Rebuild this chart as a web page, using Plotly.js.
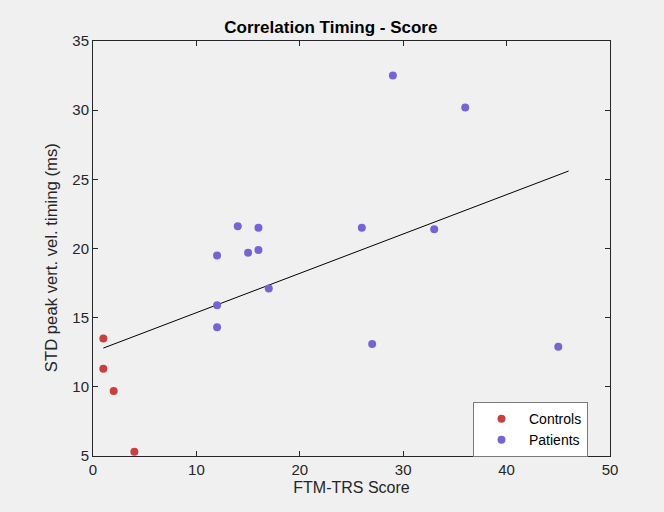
<!DOCTYPE html>
<html>
<head>
<meta charset="utf-8">
<script src="https://cdn.plot.ly/plotly-3.0.1.min.js"></script>
<style>html,body{margin:0;padding:0;background:#f0f0f0;}</style>
</head>
<body>
<div id="chart" style="width:664px;height:512px;"></div>
<script>
const controlsX = [1, 1, 2, 4];
const controlsY = [13.5, 11.3, 9.7, 5.3];
const patientsX = [12, 12, 12, 14, 15, 16, 16, 17, 26, 27, 29, 33, 36, 45];
const patientsY = [19.5, 15.9, 14.3, 21.6, 19.7, 21.5, 19.9, 17.1, 21.5, 13.1, 32.5, 21.4, 30.2, 12.9];
const fitX = [1, 46];
const fitY = [12.8, 25.6];
const xTicks = [0, 10, 20, 30, 40, 50];
const yTicks = [5, 10, 15, 20, 25, 30, 35];

const font = "Liberation Sans, Arial, Helvetica, sans-serif";

const traces = [
  {x: fitX, y: fitY, mode: 'lines', line: {color: '#000000', width: 1}, showlegend: false, hoverinfo: 'skip'},
  {x: controlsX, y: controlsY, mode: 'markers', name: 'Controls',
   marker: {color: '#c94040', size: 8}},
  {x: patientsX, y: patientsY, mode: 'markers', name: 'Patients',
   marker: {color: '#7565d4', size: 8}}
];

const axisCommon = {
  showgrid: false, zeroline: false, showline: true, linecolor: '#262626', linewidth: 1,
  mirror: 'ticks', ticks: 'inside', ticklen: 5, tickcolor: '#262626', tickwidth: 1,
  tickfont: {family: font, size: 15, color: '#262626'}
};

const layout = {
  width: 664, height: 512,
  paper_bgcolor: '#f0f0f0', plot_bgcolor: '#f0f0f0',
  margin: {l: 93, r: 54, t: 41, b: 56},
  title: {text: '<b>Correlation Timing - Score</b>', font: {family: font, size: 17, color: '#000000'},
          xref: 'paper', x: 0.46, xanchor: 'center', yref: 'container', y: 0.948, yanchor: 'middle'},
  xaxis: Object.assign({}, axisCommon, {range: [0, 50], tickvals: xTicks,
    title: {text: 'FTM-TRS Score', font: {family: font, size: 16, color: '#262626'}, standoff: 4}}),
  yaxis: Object.assign({}, axisCommon, {range: [5, 35], tickvals: yTicks}),
  annotations: [{
    text: 'STD peak vert. vel. timing (ms)', textangle: -90, showarrow: false,
    xref: 'paper', yref: 'paper', x: -0.081, y: 0.477, xanchor: 'center', yanchor: 'middle',
    font: {family: font, size: 16.7, color: '#262626'}
  }],
  legend: {x: 0.735, xanchor: 'left', y: 0.13, yanchor: 'top', bgcolor: '#ffffff',
           bordercolor: '#7a7a7a', borderwidth: 1, font: {family: font, size: 14, color: '#000000'},
           tracegroupgap: 0, itemwidth: 45},
  showlegend: true
};

Plotly.newPlot('chart', traces, layout, {displayModeBar: false, staticPlot: true});
</script>
</body>
</html>
